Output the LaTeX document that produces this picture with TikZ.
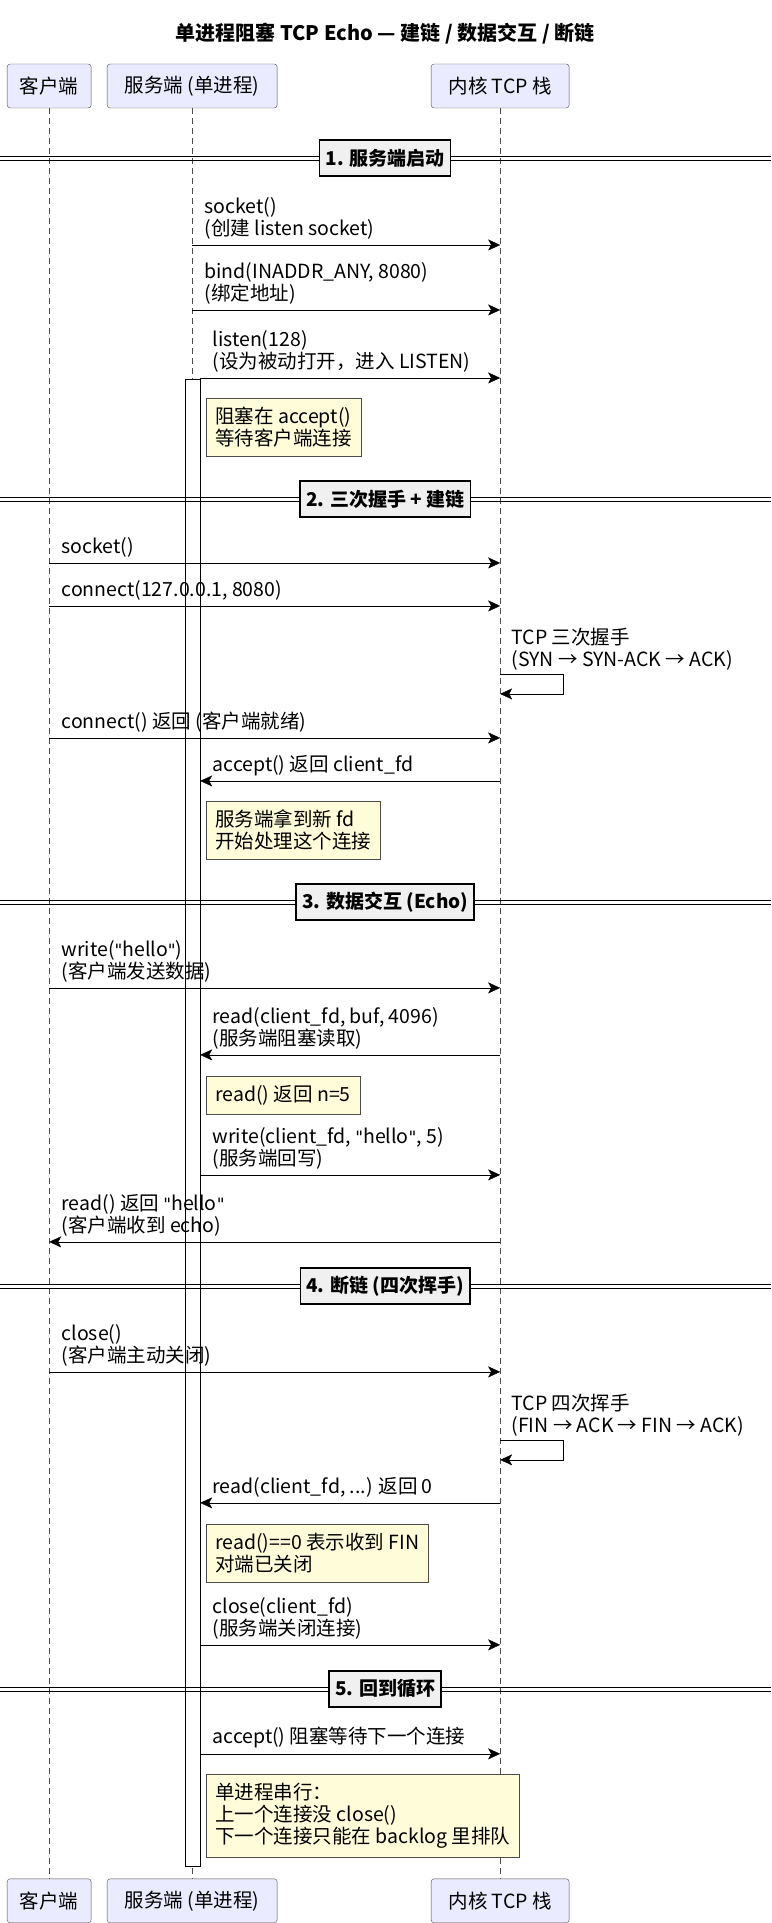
\documentclass[tikz,border=0pt]{standalone}
\usepackage{fontspec}
\setmainfont{Noto Sans CJK SC}
\newfontfamily\latfont{DejaVu Sans}
\usetikzlibrary{arrows.meta}
\usetikzlibrary{shapes.misc}
\usetikzlibrary{positioning}
\begin{document}
\begin{tikzpicture}[x=1pt,y=-1pt,font=\fontsize{19.5}{22}\selectfont]
    \tikzstyle{every path}=[draw=black,thick]
    \tikzstyle{part}=[draw=black!70,fill=blue!8!white,rounded corners=3pt,minimum height=44pt,inner sep=0pt,thin]
    \tikzstyle{life}=[draw=black!70,thin,dash pattern=on 6pt off 4pt]
    \tikzstyle{msg}=[-{Stealth[length=12pt,width=11pt,inset=3pt]},thin]
    \tikzstyle{lbl}=[draw=none,anchor=south west,align=left,inner sep=1pt]
    \tikzstyle{sect}=[draw=black,line width=1.5pt,fill=black!6,font=\bfseries\fontsize{19}{22}\selectfont,inner xsep=6pt,minimum height=36pt]
    \tikzstyle{note}=[draw=black!70,fill=yellow!15,thin,align=left,anchor=north west,inner sep=9pt]
    \newcommand{\qt}{{\latfont\fontsize{17}{22}\selectfont\symbol{34}}}

    \path[draw=none] (0,0) rectangle (771,1923);
    \node[font=\bfseries\fontsize{20}{22}\selectfont] (title) at (385,34) {单进程阻塞 TCP Echo — 建链 / 数据交互 / 断链};

    % participants
    \node[part,minimum width=84pt] (cl) at (49,86) {客户端};
    \node[part,minimum width=170pt] (sv) at (192,86) {服务端 (单进程)};
    \node[part,minimum width=138pt] (kn) at (500,86) {内核 TCP 栈};
    \node[part,minimum width=84pt] (clb) at (49,1901) {客户端};
    \node[part,minimum width=170pt] (svb) at (192,1901) {服务端 (单进程)};
    \node[part,minimum width=138pt] (knb) at (500,1901) {内核 TCP 栈};
    \draw[life] (cl) -- (clb);
    \draw[life] (sv) -- (svb);
    \draw[life] (kn) -- (knb);
    \draw[thin,fill=white] (185,379) rectangle (200,1866);

    \newcommand{\sectline}[3]{%
      \draw[thin] (0,#1-2) -- (771,#1-2) (0,#1+2) -- (771,#1+2);
      \node[sect] (#2) at (385,#1) {#3};}
    \newcommand{\msgline}[5]{%
      \coordinate (#1a) at (#2,#4);
      \coordinate (#1b) at (#3,#4);
      \draw[msg] (#1a) -- (#1b);
      \node[lbl] (#1) at ({min(#2,#3)+11},#4-4) {#5};}
    \newcommand{\selfline}[3]{%
      \coordinate (#1a) at (500,#2);
      \coordinate (#1c) at (563,#2);
      \coordinate (#1d) at (563,#2+20);
      \coordinate (#1b) at (500,#2+20);
      \draw[msg] (#1a) -- (#1c) -- (#1d) -- (#1b);
      \node[lbl] (#1) at (510,#2-2) {#3};}

    \sectline{158}{s1}{1. 服务端启动}
    \msgline{m1}{192}{500}{245}{socket()\\(创建 listen socket)}
    \msgline{m2}{192}{500}{310}{bind(INADDR\_ANY, 8080)\\(绑定地址)}
    \msgline{m3}{200}{500}{378}{listen(128)\\(设为被动打开，进入 LISTEN)}
    \node[note] (n1) at (206,398) {阻塞在 accept()\\等待客户端连接};

    \sectline{499}{s2}{2. 三次握手 + 建链}
    \msgline{m4}{49}{500}{563}{socket()}
    \msgline{m5}{49}{500}{606}{connect(127.0.0.1, 8080)}
    \selfline{m6}{674}{TCP 三次握手\\(SYN → SYN-ACK → ACK)}
    \msgline{m7}{49}{500}{738}{connect() 返回 (客户端就绪)}
    \msgline{m8}{500}{200}{781}{accept() 返回 client\_fd}
    \node[note] (n2) at (206,801) {服务端拿到新 fd\\开始处理这个连接};

    \sectline{902}{s3}{3. 数据交互 (Echo)}
    \msgline{m9}{49}{500}{988}{write(\qt hello\qt)\\(客户端发送数据)}
    \msgline{m10}{500}{200}{1055}{read(client\_fd, buf, 4096)\\(服务端阻塞读取)}
    \node[note] (n3) at (206,1076) {read() 返回 n=5};
    \msgline{m11}{200}{500}{1175}{write(client\_fd, \qt hello\qt, 5)\\(服务端回写)}
    \msgline{m12}{500}{49}{1242}{read() 返回 \qt hello\qt\\(客户端收到 echo)}

    \sectline{1286}{s4}{4. 断链 (四次挥手)}
    \msgline{m13}{49}{500}{1372}{close()\\(客户端主动关闭)}
    \selfline{m14}{1440}{TCP 四次挥手\\(FIN → ACK → FIN → ACK)}
    \msgline{m15}{500}{200}{1503}{read(client\_fd, ...) 返回 0}
    \node[note] (n4) at (206,1524) {read()==0 表示收到 FIN\\对端已关闭};
    \msgline{m16}{200}{500}{1645}{close(client\_fd)\\(服务端关闭连接)}

    \sectline{1689}{s5}{5. 回到循环}
    \msgline{m17}{200}{500}{1754}{accept() 阻塞等待下一个连接}
    \node[note] (n5) at (206,1774) {单进程串行：\\上一个连接没 close()\\下一个连接只能在 backlog 里排队};
\end{tikzpicture}
\end{document}
